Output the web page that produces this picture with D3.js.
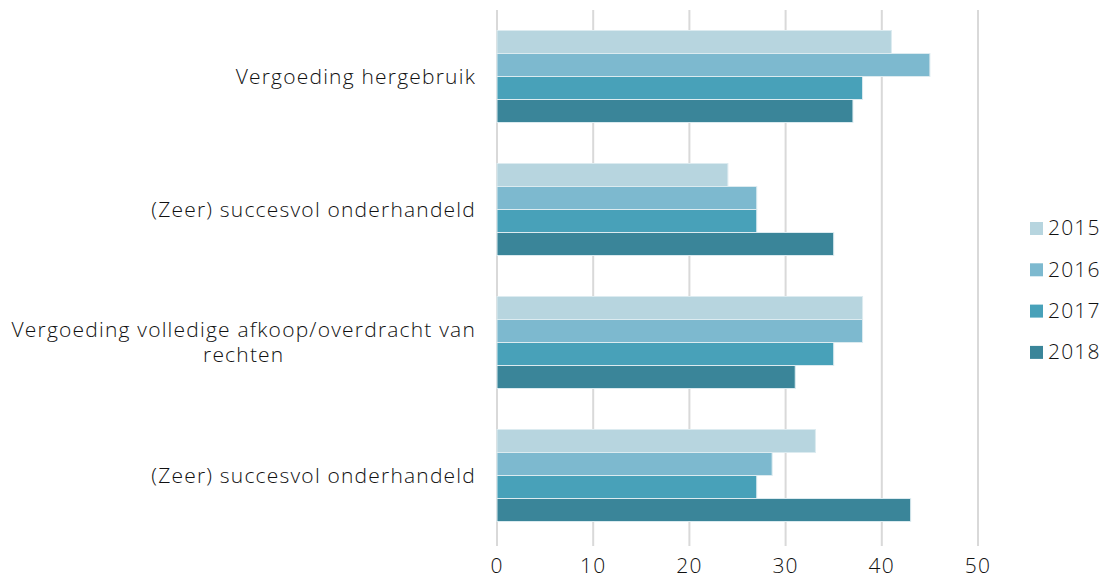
<!DOCTYPE html>
<html>
<head>
<meta charset="utf-8">
<script src="https://cdn.jsdelivr.net/npm/d3@7"></script>
<style>
  body { margin: 0; background: #fff; }
  svg { font-family: "Open Sans", Lato, sans-serif; font-weight: 300; letter-spacing: 1.2px; }
</style>
</head>
<body>
<div id="chart"></div>
<script>
const categories = [
  ["Vergoeding hergebruik"],
  ["(Zeer) succesvol onderhandeld"],
  ["Vergoeding volledige afkoop/overdracht van", "rechten"],
  ["(Zeer) succesvol onderhandeld"]
];
const years = ["2015", "2016", "2017", "2018"];
const values2015 = [41, 24, 38, 33.1];
const values2016 = [45, 27, 38, 28.6];
const values2017 = [38, 27, 35, 27];
const values2018 = [37, 35, 31, 43];
const xTicks = [0, 10, 20, 30, 40, 50];
const colors = ["#b7d5df", "#7db9cf", "#48a1b9", "#3a8599"];

const series = [values2015, values2016, values2017, values2018];
const width = 1105, height = 581;
const margin = {top: 10, right: 127, bottom: 35, left: 497};
const labelRight = 476;
const fontSize = 21;

const svg = d3.select("#chart").append("svg")
  .attr("width", width)
  .attr("height", height);

const x = d3.scaleLinear()
  .domain([0, 50])
  .range([margin.left, margin.left + 481]);

const y = d3.scaleBand()
  .domain(categories.map((_, i) => i))
  .range([margin.top, 542])
  .paddingInner(0.308)
  .paddingOuter(0.154);

const yInner = d3.scaleBand()
  .domain(years)
  .range([0, y.bandwidth()]);

// gridlines
svg.append("g")
  .selectAll("line")
  .data(xTicks)
  .join("line")
  .attr("x1", d => x(d))
  .attr("x2", d => x(d))
  .attr("y1", margin.top)
  .attr("y2", height - margin.bottom)
  .attr("stroke", "#d9d9d9")
  .attr("stroke-width", 2);

// bars
const groups = svg.append("g")
  .selectAll("g")
  .data(categories)
  .join("g")
  .attr("transform", (d, i) => `translate(0,${y(i)})`);

groups.selectAll("rect")
  .data((d, i) => years.map((yr, j) => ({yr, j, v: series[j][i]})))
  .join("rect")
  .attr("x", x(0))
  .attr("y", d => yInner(d.yr))
  .attr("width", d => x(d.v) - x(0))
  .attr("height", yInner.bandwidth())
  .attr("fill", d => colors[d.j])
  .attr("stroke", "#dcebf0")
  .attr("stroke-width", 1);

// category labels (wrapped labels are centred on their widest line)
groups.append("text")
  .attr("font-size", fontSize)
  .attr("fill", "#111")
  .each(function (d) {
    const t = d3.select(this);
    const cy = y.bandwidth() / 2;
    const lh = 25;
    const start = cy - (d.length - 1) * lh / 2;
    const spans = d.map((line, k) => t.append("tspan")
      .attr("y", start + k * lh)
      .attr("dy", "0.35em")
      .text(line));
    if (d.length === 1) {
      t.attr("text-anchor", "end");
      spans[0].attr("x", labelRight);
    } else {
      const w = d3.max(spans, s => s.node().getComputedTextLength());
      t.attr("text-anchor", "middle");
      spans.forEach(s => s.attr("x", labelRight - w / 2));
    }
  });

// x tick labels
svg.append("g")
  .selectAll("text")
  .data(xTicks)
  .join("text")
  .attr("x", d => x(d))
  .attr("y", 573)
  .attr("text-anchor", "middle")
  .attr("font-size", fontSize)
  .attr("fill", "#111")
  .text(d => d);

// legend
const legend = svg.append("g")
  .selectAll("g")
  .data(years)
  .join("g")
  .attr("transform", (d, i) => `translate(1030,${228 + i * 41.3})`);

legend.append("rect")
  .attr("x", 0)
  .attr("y", -6)
  .attr("width", 13)
  .attr("height", 13)
  .attr("fill", (d, i) => colors[i]);

legend.append("text")
  .attr("x", 18)
  .attr("y", 0)
  .attr("dy", "0.35em")
  .attr("font-size", fontSize)
  .attr("fill", "#111")
  .text(d => d);
</script>
</body>
</html>
